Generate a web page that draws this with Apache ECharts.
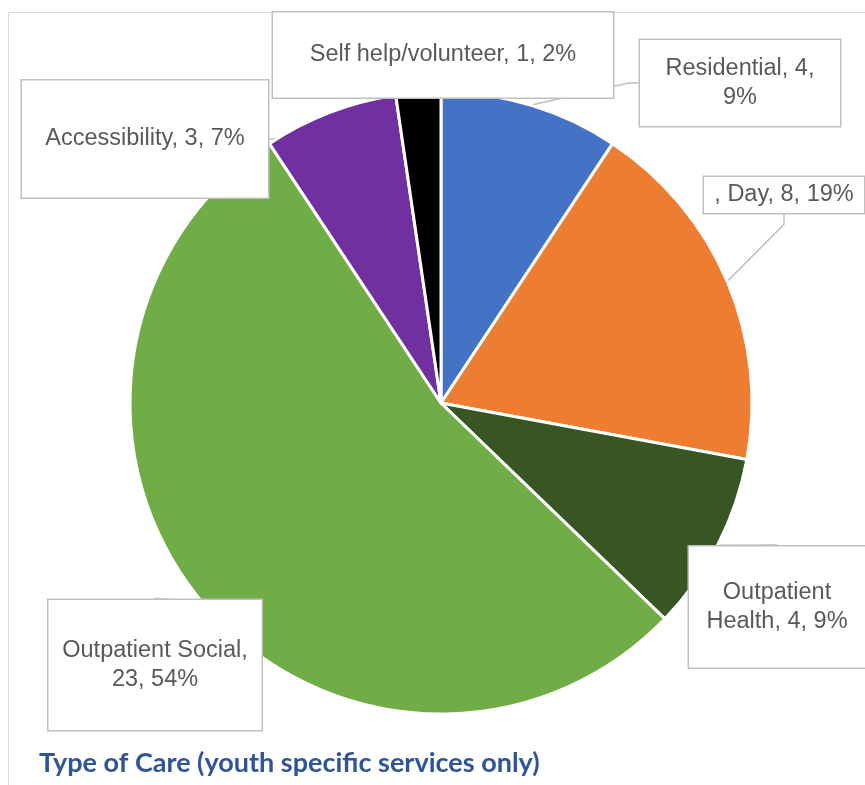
<!DOCTYPE html>
<html>
<head>
<meta charset="utf-8">
<script src="https://cdn.jsdelivr.net/npm/echarts@6/dist/echarts.min.js"></script>
<style>
  html, body { margin: 0; padding: 0; background: #fff; }
  #main { width: 865px; height: 785px; }
</style>
</head>
<body>
<div id="main"></div>
<script>
// data
const categories = ['Residential', ', Day', 'Outpatient Health', 'Outpatient Social', 'Accessibility', 'Self help/volunteer']
const counts = [4, 8, 4, 23, 3, 1]
const colors = ['#4472C4', '#ED7D31', '#375623', '#70AD47', '#7030A0', '#000000']
// label text templates (where the callout wraps)
const labelTexts = ['{b}, {c},\n{d}%', '{b}, {c}, {d}%', 'Outpatient\nHealth, {c}, {d}%', 'Outpatient Social,\n{c}, {d}%', '{b}, {c}, {d}%', '{b}, {c}, {d}%']

// callout boxes: [centerX, centerY, width, height, lines]
const callouts = [
  [740, 83, 200, 86, 2],
  [784, 195, 160, 36, 1],
  [777, 607, 176, 121, 2],
  [155, 665, 213, 130, 2],
  [145, 139, 246, 117, 1],
  [443, 55, 340, 85, 1],
]
const lineH = 29

const chart = echarts.init(document.getElementById('main'))

const option = {
  animation: false,
  title: {
    text: 'Type of Care (youth specific services only)',
    left: 34,
    top: 745,
    textStyle: {
      fontFamily: 'Lato',
      fontWeight: 'bold',
      fontSize: 27,
      color: '#2F5597',
    },
  },
  graphic: [{
    type: 'rect',
    shape: { x: 8.5, y: 12.5, width: 900, height: 900 },
    style: { fill: 'none', stroke: '#D9D9D9', lineWidth: 1 },
    silent: true,
  }],
  series: [{
    type: 'pie',
    center: [441, 403],
    radius: 311,
    startAngle: 90,
    clockwise: true,
    percentPrecision: 0,
    itemStyle: {
      borderColor: '#fff',
      borderWidth: 3,
    },
    label: {
      show: true,
      position: 'outside',
      overflow: 'none',
      fontFamily: 'Liberation Sans',
      fontSize: 23.5,
      lineHeight: lineH,
      color: '#595959',
      backgroundColor: '#fff',
      borderColor: '#BFBFBF',
      borderWidth: 1.5,
      align: 'center',
    },
    labelLine: {
      show: true,
      length: 10,
      length2: 10,
      lineStyle: { color: '#BFBFBF', width: 1.5 },
    },
    labelLayout(params) {
      const c = callouts[params.dataIndex]
      return {
        x: c[0],
        y: c[1],
        align: 'center',
        verticalAlign: 'middle',
      }
    },
    data: categories.map((name, i) => {
      const c = callouts[i]
      const padV = (c[3] - c[4] * lineH) / 2
      return {
        name,
        value: counts[i],
        itemStyle: { color: colors[i] },
        label: {
          formatter: labelTexts[i],
          width: c[2] - 10,
          padding: [padV + 2, 5, padV - 2, 5],
        },
      }
    }),
  }],
}

chart.setOption(option)
</script>
</body>
</html>
